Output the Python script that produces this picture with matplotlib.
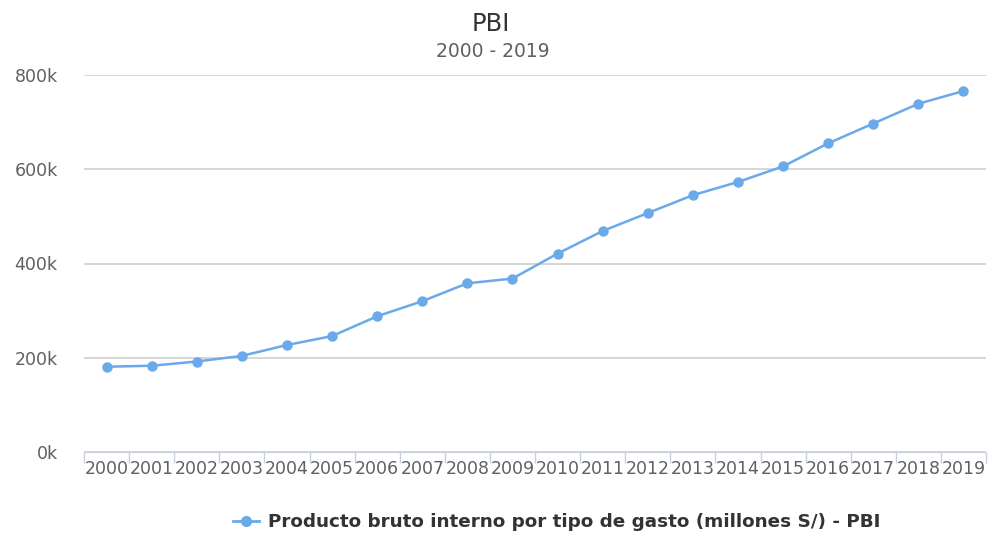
# PBI line chart, 2000 - 2019

import numpy as np
import matplotlib.pyplot as plt
from matplotlib.lines import Line2D

plt.rcParams['font.family'] = ['DejaVu Sans']

# data
years = ['2000', '2001', '2002', '2003', '2004', '2005', '2006', '2007', '2008', '2009',
         '2010', '2011', '2012', '2013', '2014', '2015', '2016', '2017', '2018', '2019']
pbi = [181000, 183000, 192000, 204000, 227000, 246000, 288000, 320000, 358000, 368000,
       421000, 469000, 507000, 545000, 573000, 606000, 655000, 697000, 739000, 766000]
ytick_vals = [0, 200000, 400000, 600000, 800000]
ytick_labels = ['0k', '200k', '400k', '600k', '800k']
series_name = 'Producto bruto interno por tipo de gasto (millones S/) - PBI'

line_col = '#6aa9ea'
text_col = '#606060'

fig = plt.figure(figsize=(9.89, 5.34), dpi=100)
ax = fig.add_axes([84/989, 1-452/534, (986-84)/989, (452-75)/534])

x = np.arange(len(years))
ax.plot(x, pbi, color=line_col, lw=1.8, marker='o', ms=6.5, mfc=line_col, mec=line_col, zorder=3)

ax.set_xlim(-0.5, len(years) - 0.5)
ax.set_ylim(0, 800000)

# y axis: gridlines only
ax.set_yticks(ytick_vals)
ax.set_yticklabels(ytick_labels)
ax.tick_params(axis='y', length=0, pad=19, labelsize=12.5, labelcolor=text_col)
ax.yaxis.grid(True, color='#d0d0d0', lw=1.2)
ax.set_axisbelow(True)

# x axis: labels at categories, ticks on the boundaries
ax.set_xticks(x)
ax.set_xticklabels(years)
ax.tick_params(axis='x', length=0, pad=6, labelsize=12.5, labelcolor=text_col)
ax.set_xticks(np.arange(len(years) + 1) - 0.5, minor=True)
ax.tick_params(axis='x', which='minor', length=8, color='#c8d0e0', width=1)

for s in ['top', 'right', 'left']:
    ax.spines[s].set_visible(False)
ax.spines['bottom'].set_color('#c8d0e0')

fig.text(0.496, 0.955, 'PBI', ha='center', va='center', fontsize=17.5, color='#333333')
fig.text(0.498, 0.903, '2000 - 2019', ha='center', va='center', fontsize=13.5, color=text_col)

# legend drawn by hand
handle = Line2D([0], [0], color=line_col, lw=2, marker='o', ms=7)
fig.legend([handle], [series_name], loc='center', bbox_to_anchor=(0.563, 0.022),
           frameon=False, prop={'weight': 'bold', 'size': 13.2}, labelcolor='#333333',
           handlelength=1.4, handletextpad=0.5)

plt.savefig('out.png', dpi=100)
